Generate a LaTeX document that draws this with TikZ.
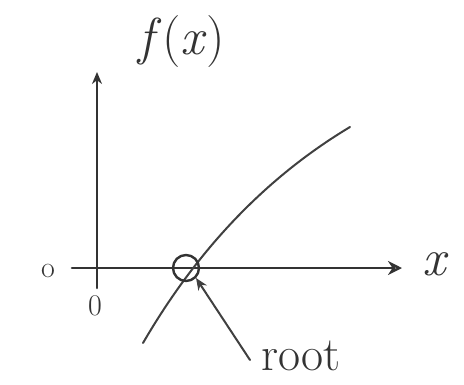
\documentclass[tikz,border=0pt]{standalone}
\usetikzlibrary{arrows.meta}
\begin{document}
\begin{tikzpicture}[x=1pt,y=-1pt,
  pen/.style={line width=2.6pt,draw=black!80,line cap=round,line join=round},
  thin pen/.style={line width=2pt,draw=black!75,line cap=round},
  lbl/.style={inner sep=0pt,text=black!80}]
\useasboundingbox (0,0) rectangle (464,384);
% axes
\coordinate (O) at (97,268);
\coordinate (ytip) at (97,72);
\coordinate (ybot) at (97,288);
\coordinate (xleft) at (72,268);
\coordinate (xtip) at (402,268);
\draw[pen,-{Stealth[length=12pt,width=10pt]}] (ybot) -- (ytip);
\draw[pen,-{Stealth[length=14pt,width=14pt,open]}] (xleft) -- (xtip);
% curve
\coordinate (cstart) at (143,343);
\coordinate (cend) at (350,127);
\draw[thin pen] (cstart) .. controls (200,245) and (270,175) .. (cend);
% root circle
\node[circle,draw=black!80,line width=2.4pt,minimum size=26pt,inner sep=0pt] (root) at (186,268) {};
% labels
\node[lbl,font=\fontsize{52}{56}\selectfont] (fx) at (182,42) {\textit{f}(\textit{x})};
\node[lbl,font=\fontsize{52}{56}\selectfont\itshape] (xl) at (434,264) {x};
\node[lbl,font=\fontsize{30}{32}\selectfont] (o) at (48,271) {o};
\node[lbl,font=\fontsize{30}{32}\selectfont] (zero) at (95,306) {0};
\node[lbl,font=\fontsize{48}{52}\selectfont] (rootlbl) at (301,356) {root};
% pointer
\coordinate (ptail) at (250,360);
\draw[thin pen,-{Stealth[length=12pt,width=10pt]}] (ptail) -- (root.south east);
\end{tikzpicture}
\end{document}
